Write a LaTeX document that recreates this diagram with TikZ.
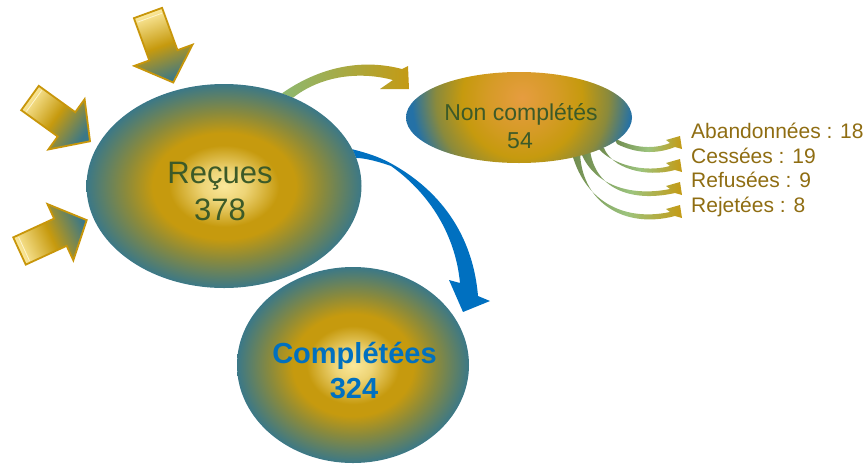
\documentclass[tikz,border=0pt]{standalone}
\usepackage{fontspec}
\setmainfont{Liberation Sans}
\usetikzlibrary{shapes.geometric}

\definecolor{ballLight}{HTML}{FBE89A}
\definecolor{ballGold}{HTML}{C69A0E}
\definecolor{ballOlive}{HTML}{8A8A3C}
\definecolor{ballTeal}{HTML}{3B7887}
\definecolor{nonOrange}{HTML}{E69C40}
\definecolor{nonBlue}{HTML}{2471A6}
\definecolor{arrowGold}{HTML}{C8960A}
\definecolor{arrowGreen}{HTML}{8DB870}
\definecolor{arrowLight}{HTML}{9CC47E}
\definecolor{arrowOlive}{HTML}{6F8A4E}
\definecolor{headGold}{HTML}{C49A14}
\definecolor{complBlue}{HTML}{0070C0}
\definecolor{txtGreen}{HTML}{3C5A28}
\definecolor{txtGold}{HTML}{8F6D12}

\pgfdeclareradialshading{recball}{\pgfpoint{0bp}{0bp}}{color(0bp)=(ballLight); color(4bp)=(ballLight!75!ballGold); color(10bp)=(ballGold); color(13bp)=(ballGold); color(18bp)=(ballOlive); color(25bp)=(ballTeal); color(50bp)=(ballTeal)}
\pgfdeclareradialshading{nonball}{\pgfpoint{0bp}{0bp}}{color(0bp)=(nonOrange); color(7bp)=(nonOrange!50!ballGold); color(12.5bp)=(ballGold); color(18bp)=(ballOlive); color(23bp)=(nonBlue); color(50bp)=(nonBlue)}

\pgfdeclarelayer{background}
\pgfsetlayers{background,main}

\tikzset{
	ball/.style={ellipse, shade, inner sep=0pt, outer sep=0pt},
	bigtext/.style={anchor=base, inner sep=0pt, text=txtGreen, font=\fontsize{31}{37}\selectfont},
	midtext/.style={anchor=base, inner sep=0pt, text=txtGreen, font=\fontsize{23}{28}\selectfont},
	bluetext/.style={anchor=base, inner sep=0pt, text=complBlue, font=\fontsize{29}{35}\selectfont\bfseries},
	reason/.style={anchor=base west, inner sep=0pt, text=txtGold, font=\fontsize{21}{25}\selectfont},
	thinarrow/.style={left color=arrowOlive, right color=headGold, middle color=arrowLight},
	inarrow/.pic={
		\shade[draw=arrowGold, line width=1.8pt, left color=ballLight, right color=ballTeal, middle color=ballGold, shading angle=#1]
			(0,-15) -- (45,-15) -- (45,-31) -- (74,0) -- (45,31) -- (45,15) -- (0,15) -- cycle;
		\draw[ballLight!50!white, line width=0.8pt] (5,-13) -- (5,13);
	}
}

\begin{document}
\begin{tikzpicture}[x=1pt, y=-1pt]
	\useasboundingbox (0,0) rectangle (867,464);

	\pic (inTop) [rotate=-70] at (148,13) {inarrow=20};
	\pic (inMid) [rotate=-35.8] at (30,98) {inarrow=54.2};
	\pic (inLow) [rotate=24.7] at (19.5,251) {inarrow=114.7};

	\begin{scope}
		\clip (519,117.5) ellipse [x radius=113, y radius=45.5];
		\shade[shading=nonball] (522,98) circle (120);
	\end{scope}

	\node[ball, shading=recball, minimum width=275pt, minimum height=204pt] (recues) at (224,186) {};
	\node[ellipse, inner sep=0pt, outer sep=0pt, minimum width=226pt, minimum height=91pt] (noncompl) at (519,117.5) {};
	\node[ball, shading=recball, minimum width=232pt, minimum height=196pt] (completees) at (353,365) {};

	\node[bigtext] (recuesNom) at (220,183) {Reçues};
	\node[bigtext] (recuesNb) at (220,220) {378};
	\node[midtext] (noncomplNom) at (521,120) {Non complétés};
	\node[midtext] (noncomplNb) at (520,148) {54};
	\node[bluetext] (completeesNom) at (354.5,363) {Complétées};
	\node[bluetext] (completeesNb) at (354,398) {324};

	\node[reason] (abandon) at (691,138) {Abandonnées : 18};
	\node[reason] (cessees) at (691,163) {Cessées : 19};
	\node[reason] (refusees) at (691,187.5) {Refusées : 9};
	\node[reason] (rejetees) at (691,212) {Rejetées : 8};

	\begin{pgfonlayer}{background}
		\shade[left color=arrowGreen, right color=headGold]
			(recues.58) .. controls (318,68) and (360,58) .. (402,69) -- (408,66) -- (409,89) -- (380,89)
			-- (393,80) .. controls (355,70) and (318,78) .. (recues.52) -- cycle;
		\fill[complBlue]
			(recues.16) .. controls (375,155) and (385,160) .. (392,164) .. controls (430,185) and (472,225) .. (478,296)
			-- (490,301) -- (463,312) -- (449,280)
			-- (460,283) .. controls (455,230) and (425,190) .. (391,166) .. controls (380,162) and (365,158) .. (recues.12) -- cycle;

		\shade[thinarrow] (617,144) .. controls (635,153) and (655,155) .. (675,147) -- (682,149) -- (680,136) -- (666,140)
			-- (670,143) .. controls (655,149) and (635,149) .. (614,138) -- cycle;
		\shade[thinarrow] (604,148) .. controls (612,168) and (645,178) .. (675,170) -- (682,172) -- (680,159) -- (666,163)
			-- (670,166) .. controls (645,173) and (612,165) .. (598,148) -- cycle;
		\shade[thinarrow] (590,150) .. controls (595,188) and (630,203) .. (675,193) -- (682,195) -- (680,182) -- (666,186)
			-- (670,189) .. controls (630,197) and (592,185) .. (580,150) -- cycle;
		\shade[thinarrow] (580,150) .. controls (580,200) and (622,230) .. (675,216) -- (682,218) -- (680,205) -- (666,209)
			-- (670,212) .. controls (622,222) and (583,200) .. (571,150) -- cycle;
	\end{pgfonlayer}
\end{tikzpicture}
\end{document}
